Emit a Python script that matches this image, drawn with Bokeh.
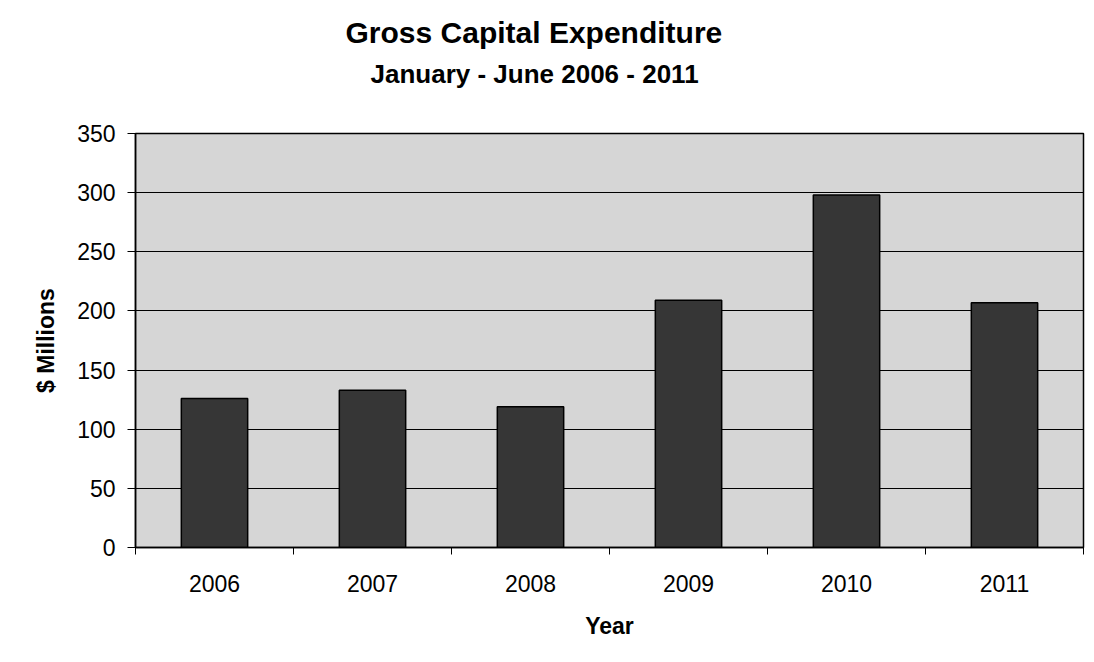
from bokeh.plotting import figure
from bokeh.models import ColumnDataSource, FixedTicker, Range1d, Title
from bokeh.embed import file_html
from bokeh.resources import INLINE

years = ["2006", "2007", "2008", "2009", "2010", "2011"]
values = [126, 133, 119, 209, 298, 207]
y_ticks = [0, 50, 100, 150, 200, 250, 300, 350]

title_text = "Gross Capital Expenditure"
subtitle_text = "January - June 2006 - 2011"

FONT = "Liberation Sans"

xs = [i + 0.5 for i in range(len(years))]
src = ColumnDataSource(dict(x=xs, top=values, year=years))

p = figure(width=1090, height=655, output_backend="svg", toolbar_location=None,
           x_range=Range1d(0, len(years)), y_range=Range1d(0, 350),
           min_border_left=135, min_border_top=133, min_border_right=7,
           min_border_bottom=108)

p.background_fill_color = "#d6d6d6"
p.border_fill_color = "white"
p.outline_line_color = "black"
p.outline_line_width = 1.5

p.vbar(x="x", top="top", width=0.42, bottom=0, source=src,
       fill_color="#363636", line_color="black", line_width=1.5)

# x axis
p.xaxis.ticker = FixedTicker(ticks=xs, minor_ticks=list(range(len(years) + 1)))
p.xaxis.major_label_overrides = {x: y for x, y in zip(xs, years)}
p.xaxis.major_tick_line_color = None
p.xaxis.minor_tick_line_color = "black"
p.xaxis.minor_tick_out = 7
p.xaxis.minor_tick_in = 0
p.xaxis.major_label_standoff = 20
p.xaxis.axis_label = "Year"
p.xaxis.axis_label_standoff = 18

# y axis
p.yaxis.ticker = FixedTicker(ticks=y_ticks)
p.yaxis.minor_tick_line_color = None
p.yaxis.major_tick_out = 8
p.yaxis.major_tick_in = 0
p.yaxis.major_label_standoff = 12
p.yaxis.axis_label = "$ Millions"
p.yaxis.axis_label_standoff = 15

for ax in (p.xaxis, p.yaxis):
    ax.axis_line_color = "black"
    ax.axis_line_width = 1.5
    ax.major_label_text_font = FONT
    ax.major_label_text_font_size = "23px"
    ax.major_label_text_color = "black"
    ax.axis_label_text_font = FONT
    ax.axis_label_text_font_size = "23px"
    ax.axis_label_text_font_style = "bold"
    ax.axis_label_text_color = "black"

p.xgrid.grid_line_color = None
p.ygrid.grid_line_color = "black"
p.ygrid.grid_line_width = 1.2

# spacer panel between the plot area and the subtitle
p.add_layout(Title(text=" ", standoff=36, text_font_size="2px",
                   text_color="white"), "above")
p.add_layout(Title(text=subtitle_text, align="left", offset=235, standoff=10,
                   text_font=FONT, text_font_size="26px", text_font_style="bold",
                   text_color="black"), "above")
p.add_layout(Title(text=title_text, align="left", offset=210, standoff=6,
                   text_font=FONT, text_font_size="30px", text_font_style="bold",
                   text_color="black"), "above")

open("out.html", "w").write(file_html(p, INLINE))
